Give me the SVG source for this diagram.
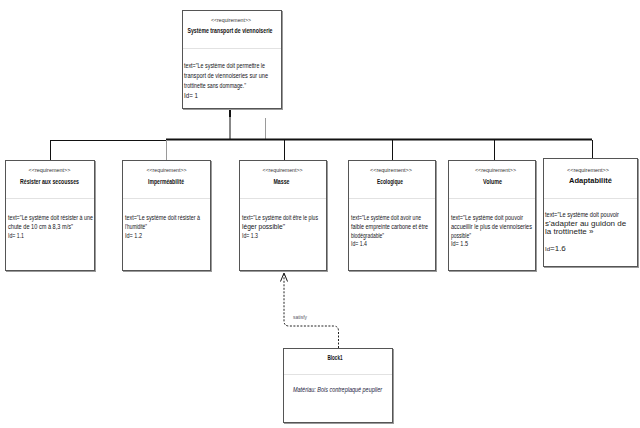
<svg xmlns="http://www.w3.org/2000/svg" width="640" height="428" viewBox="0 0 640 428">
<style>
.box{fill:#fff;stroke:#555;stroke-width:1}
.shadow{fill:none;stroke:#9a9a9a;stroke-width:1}
.sep{stroke:#e2e2e2;stroke-width:1}
text{font-family:"Liberation Sans Narrow","Liberation Sans",Arial,sans-serif}
.st{font-size:6px;fill:#333;text-anchor:middle}
.tt{font-size:7px;fill:#111;text-anchor:middle;font-weight:bold}
.it{font-size:7px;fill:#1c1c40;text-anchor:middle;font-style:italic}
.bt{font-size:7px;fill:#141420}
.big{font-family:"Liberation Sans",Arial,sans-serif;font-size:8px;fill:#222}
.ln{stroke:#111;stroke-width:1;fill:none}
.gray{stroke:#9a9a9a;stroke-width:1;fill:none}
.dash{stroke:#222;stroke-width:1;fill:none;stroke-dasharray:2,1.5}
.lbl{font-size:5px;fill:#556;text-anchor:middle}
</style>

<g id="connectors">
  <line class="ln" x1="230" y1="109" x2="230" y2="140"/>
  <line x1="230" y1="110" x2="230" y2="117" stroke="#111" stroke-width="2"/>
  <ellipse cx="230" cy="104" rx="3.5" ry="5.5" fill="#111"/>
  <line class="gray" x1="265.5" y1="118" x2="265.5" y2="140"/>
  <line class="ln" x1="50" y1="140.5" x2="166" y2="140.5"/>
  <line x1="166" y1="139.5" x2="592" y2="139.5" stroke="#111" stroke-width="2"/>
  <line class="ln" x1="50.5" y1="140" x2="50.5" y2="160"/>
  <line class="gray" x1="166.5" y1="140" x2="166.5" y2="160"/>
  <line class="ln" x1="284.5" y1="140" x2="284.5" y2="160"/>
  <line class="ln" x1="392.5" y1="140" x2="392.5" y2="160"/>
  <line class="ln" x1="494.5" y1="140" x2="494.5" y2="160"/>
  <line class="ln" x1="592.5" y1="140" x2="592.5" y2="158"/>
  <path class="dash" d="M338.5,348 L338.5,331 Q338.5,326 333.5,326 L289,326 Q284,326 284,321 L284,274"/>
  <polyline class="ln" points="280.5,281.5 284,273 287.5,281.5"/>
  <text class="lbl" x="300" y="319" textLength="14" lengthAdjust="spacingAndGlyphs">satisfy</text>
</g>

<g id="req-systeme">
  <rect class="shadow" x="183.5" y="11.5" width="99" height="98"/>
  <rect class="box" x="182.5" y="10.5" width="99" height="98"/>
  <line class="sep" x1="183" y1="48.5" x2="281" y2="48.5"/>
  <text class="st" x="231" y="22" textLength="40" lengthAdjust="spacingAndGlyphs">&lt;&lt;requirement&gt;&gt;</text>
  <text class="tt" x="230" y="33" textLength="85" lengthAdjust="spacingAndGlyphs">Système transport de viennoiserie</text>
  <text class="bt" x="184" y="68" textLength="81" lengthAdjust="spacingAndGlyphs">text="Le système doit permettre le</text>
  <text class="bt" x="184" y="78" textLength="84" lengthAdjust="spacingAndGlyphs">transport de viennoiseries sur une</text>
  <text class="bt" x="184" y="88" textLength="62" lengthAdjust="spacingAndGlyphs">trottinette sans dommage."</text>
  <text class="bt" x="184" y="98" textLength="14" lengthAdjust="spacingAndGlyphs">Id= 1</text>
</g>

<g id="req-resister">
  <rect class="shadow" x="6.5" y="161.5" width="89" height="110"/>
  <rect class="box" x="5.5" y="160.5" width="89" height="110"/>
  <line class="sep" x1="6" y1="198.5" x2="94" y2="198.5"/>
  <text class="st" x="49.5" y="172" textLength="42" lengthAdjust="spacingAndGlyphs">&lt;&lt;requirement&gt;&gt;</text>
  <text class="tt" x="49.5" y="183.5" textLength="59" lengthAdjust="spacingAndGlyphs">Résister aux secousses</text>
  <text class="bt" x="8" y="219.5" textLength="85" lengthAdjust="spacingAndGlyphs">text="Le système doit résister à une</text>
  <text class="bt" x="8" y="228.5" textLength="65" lengthAdjust="spacingAndGlyphs">chute de 10 cm à 8,3 m/s"</text>
  <text class="bt" x="8" y="237.5" textLength="16" lengthAdjust="spacingAndGlyphs">Id= 1.1</text>
</g>

<g id="req-impermeabilite">
  <rect class="shadow" x="123.5" y="161.5" width="88" height="110"/>
  <rect class="box" x="122.5" y="160.5" width="88" height="110"/>
  <line class="sep" x1="123" y1="198.5" x2="210" y2="198.5"/>
  <text class="st" x="166.5" y="172" textLength="40" lengthAdjust="spacingAndGlyphs">&lt;&lt;requirement&gt;&gt;</text>
  <text class="tt" x="166" y="183.5" textLength="36" lengthAdjust="spacingAndGlyphs">Imperméabilité</text>
  <text class="bt" x="125" y="219.5" textLength="75" lengthAdjust="spacingAndGlyphs">text="Le système doit résister à</text>
  <text class="bt" x="125" y="228.5" textLength="22" lengthAdjust="spacingAndGlyphs">l'humidité"</text>
  <text class="bt" x="125" y="237.5" textLength="17" lengthAdjust="spacingAndGlyphs">Id= 1.2</text>
</g>

<g id="req-masse">
  <rect class="shadow" x="240.5" y="161.5" width="87" height="110"/>
  <rect class="box" x="239.5" y="160.5" width="87" height="110"/>
  <line class="sep" x1="240" y1="198.5" x2="326" y2="198.5"/>
  <text class="st" x="282.5" y="172" textLength="40" lengthAdjust="spacingAndGlyphs">&lt;&lt;requirement&gt;&gt;</text>
  <text class="tt" x="281.5" y="183.5" textLength="16" lengthAdjust="spacingAndGlyphs">Masse</text>
  <text class="bt" x="242" y="219.5" textLength="76" lengthAdjust="spacingAndGlyphs">text="Le système doit être le plus</text>
  <text class="bt" x="242" y="228.5" textLength="43" lengthAdjust="spacingAndGlyphs">léger possible"</text>
  <text class="bt" x="242" y="237.5" textLength="16" lengthAdjust="spacingAndGlyphs">Id= 1.3</text>
</g>

<g id="req-ecologique">
  <rect class="shadow" x="349.5" y="161.5" width="87" height="110"/>
  <rect class="box" x="348.5" y="160.5" width="87" height="110"/>
  <line class="sep" x1="349" y1="198.5" x2="435" y2="198.5"/>
  <text class="st" x="391" y="172" textLength="42" lengthAdjust="spacingAndGlyphs">&lt;&lt;requirement&gt;&gt;</text>
  <text class="tt" x="390" y="183.5" textLength="26" lengthAdjust="spacingAndGlyphs">Ecologique</text>
  <text class="bt" x="351" y="219.5" textLength="70" lengthAdjust="spacingAndGlyphs">text="Le système doit avoir une</text>
  <text class="bt" x="351" y="228.5" textLength="77" lengthAdjust="spacingAndGlyphs">faible empreinte carbone et être</text>
  <text class="bt" x="351" y="237.5" textLength="33" lengthAdjust="spacingAndGlyphs">biodégradable"</text>
  <text class="bt" x="351" y="245.5" textLength="16" lengthAdjust="spacingAndGlyphs">Id= 1.4</text>
</g>

<g id="req-volume">
  <rect class="shadow" x="449.5" y="161.5" width="87" height="110"/>
  <rect class="box" x="448.5" y="160.5" width="87" height="110"/>
  <line class="sep" x1="449" y1="198.5" x2="535" y2="198.5"/>
  <text class="st" x="495.5" y="172" textLength="41" lengthAdjust="spacingAndGlyphs">&lt;&lt;requirement&gt;&gt;</text>
  <text class="tt" x="492.5" y="183.5" textLength="19" lengthAdjust="spacingAndGlyphs">Volume</text>
  <text class="bt" x="451" y="219.5" textLength="72" lengthAdjust="spacingAndGlyphs">text="Le système doit pouvoir</text>
  <text class="bt" x="451" y="228.5" textLength="81" lengthAdjust="spacingAndGlyphs">accueillir le plus de viennoiseries</text>
  <text class="bt" x="451" y="237.5" textLength="20" lengthAdjust="spacingAndGlyphs">possible"</text>
  <text class="bt" x="451" y="245.5" textLength="17" lengthAdjust="spacingAndGlyphs">Id= 1.5</text>
</g>

<g id="req-adaptabilite">
  <rect class="shadow" x="544.5" y="159.5" width="94" height="108"/>
  <rect class="box" x="543.5" y="158.5" width="94" height="108"/>
  <line class="sep" x1="544" y1="198.5" x2="637" y2="198.5"/>
  <text class="st" x="588" y="172" textLength="42" lengthAdjust="spacingAndGlyphs">&lt;&lt;requirement&gt;&gt;</text>
  <text x="590.5" y="182.5" font-family="Liberation Sans, Arial, sans-serif" font-size="7.5" font-weight="bold" fill="#111" text-anchor="middle">Adaptabilité</text>
  <text class="bt" x="545" y="217" textLength="74" lengthAdjust="spacingAndGlyphs">text="Le système doit pouvoir</text>
  <text class="big" x="545" y="225.5">s'adapter au guidon de</text>
  <text class="big" x="545" y="233.5">la trottinette »</text>
  <text class="big" x="545" y="250.5"><tspan font-size="6">Id</tspan>=1.6</text>
</g>

<g id="block1">
  <rect class="shadow" x="284.5" y="349.5" width="109" height="74"/>
  <rect class="box" x="283.5" y="348.5" width="109" height="74"/>
  <line class="sep" x1="284" y1="374.5" x2="392" y2="374.5"/>
  <text class="tt" x="335" y="359.5" textLength="15" lengthAdjust="spacingAndGlyphs">Block1</text>
  <text class="it" x="337.5" y="391.5" textLength="89" lengthAdjust="spacingAndGlyphs">Matériau: Bois contreplaqué peuplier</text>
</g>
</svg>
